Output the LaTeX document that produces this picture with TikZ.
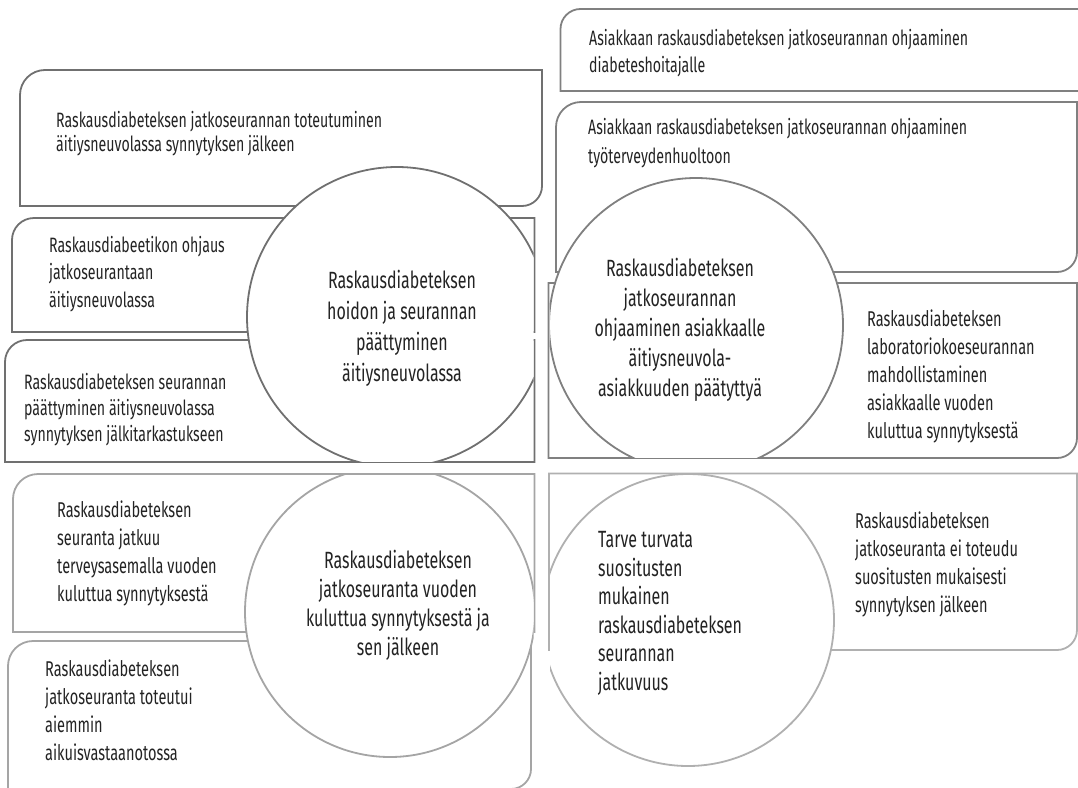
\documentclass[tikz,border=0pt]{standalone}
\usepackage{fontspec}
\setmainfont{Fira Sans}[FakeStretch=0.68]

\definecolor{edgeTL}{RGB}{112,112,112}
\definecolor{edgeTR}{RGB}{128,128,128}
\definecolor{edgeBL}{RGB}{165,165,165}
\definecolor{edgeBR}{RGB}{176,176,176}
\definecolor{ink}{RGB}{35,35,35}

\begin{document}
\begin{tikzpicture}[
    x=1pt, y=-1pt,
    every node/.style={inner sep=0pt, text=ink},
    boxtxt/.style={align=left, anchor=north west, font=\fontsize{21.4}{28}\selectfont},
    ringtxt/.style={align=center, anchor=north, font=\fontsize{23.5}{30}\selectfont},
    tl/.style={draw=edgeTL, line width=1.8pt},
    tr/.style={draw=edgeTR, line width=1.8pt},
    bl/.style={draw=edgeBL, line width=1.8pt},
    br/.style={draw=edgeBR, line width=1.8pt}
]
    \useasboundingbox (0,0) rectangle (1078,787);
    \clip (0,0) rectangle (1078,787);

    % Top left: boxes
    \draw[tl] (20,206) -- (20,95) arc[start angle=180, end angle=270, radius=25]
        -- (542,70) -- (542,186) arc[start angle=0, end angle=90, radius=20] -- cycle;
    \draw[tl] (12,332) -- (12,240) arc[start angle=180, end angle=270, radius=22]
        -- (534.5,218) -- (534.5,332) -- cycle;
    \draw[tl] (5,462) -- (5,362) arc[start angle=180, end angle=270, radius=22]
        -- (534.5,340) -- (534.5,462) -- cycle;
    % Top left: circle
    \begin{scope}
        \clip (0,0) rectangle (533.5,461);
        \draw[tl, fill=white] (397,317) circle[radius=150];
    \end{scope}

    % Top right: boxes
    \draw[tr] (560.5,91) -- (560.5,29) arc[start angle=180, end angle=270, radius=20]
        -- (1100,9) -- (1100,91) -- cycle;
    \draw[tr] (556,272) -- (556,127) arc[start angle=180, end angle=270, radius=25]
        -- (1077,102) -- (1077,252) arc[start angle=0, end angle=90, radius=20] -- cycle;
    \draw[tr] (548.5,458) -- (548.5,283) -- (1077,283)
        -- (1077,438) arc[start angle=0, end angle=90, radius=20] -- cycle;
    % Top right: circle
    \begin{scope}
        \clip (549.5,0) rectangle (1078,457);
        \draw[tr, fill=white] (696,325) circle[radius=147];
    \end{scope}

    % Bottom left: boxes
    \draw[bl] (13,632) -- (13,499) arc[start angle=180, end angle=270, radius=25]
        -- (534.5,474) -- (534.5,632) -- cycle;
    \draw[bl] (8,789) -- (8,666) arc[start angle=180, end angle=270, radius=25]
        -- (531,641) -- (531,769) arc[start angle=0, end angle=90, radius=20] -- cycle;
    % Bottom left: circle
    \begin{scope}
        \clip (0,475) rectangle (533.5,787);
        \draw[bl, fill=white] (390,612) circle[radius=145];
    \end{scope}

    % Bottom right: box
    \draw[br] (549,650) -- (549,473.5) -- (1077,473.5)
        -- (1077,630) arc[start angle=0, end angle=90, radius=20] -- cycle;
    % Bottom right: circle
    \begin{scope}
        \clip (550,474.5) rectangle (1078,787);
        \draw[br, fill=white] (688,620) circle[radius=146];
    \end{scope}

    % Texts in the boxes
    \node[boxtxt, font=\fontsize{20.8}{24}\selectfont] (t1) at (56,111)
        {Raskausdiabeteksen jatkoseurannan toteutuminen\\äitiysneuvolassa synnytyksen jälkeen};
    \node[boxtxt, font=\fontsize{20.8}{27.5}\selectfont] (t2) at (49,236)
        {Raskausdiabeetikon ohjaus\\jatkoseurantaan\\äitiysneuvolassa};
    \node[boxtxt, font=\fontsize{20.8}{26}\selectfont] (t3) at (24,373)
        {Raskausdiabeteksen seurannan\\päättyminen äitiysneuvolassa\\synnytyksen jälkitarkastukseen};
    \node[boxtxt, font=\fontsize{20.8}{27}\selectfont] (t4) at (589,29)
        {Asiakkaan raskausdiabeteksen jatkoseurannan ohjaaminen\\diabeteshoitajalle};
    \node[boxtxt, font=\fontsize{20.8}{29}\selectfont] (t5) at (588,118)
        {Asiakkaan raskausdiabeteksen jatkoseurannan ohjaaminen\\työterveydenhuoltoon};
    \node[boxtxt] (t6) at (867,310)
        {Raskausdiabeteksen\\laboratoriokoeseurannan\\mahdollistaminen\\asiakkaalle vuoden\\kuluttua synnytyksestä};
    \node[boxtxt] (t7) at (57,501)
        {Raskausdiabeteksen\\seuranta jatkuu\\terveysasemalla vuoden\\kuluttua synnytyksestä};
    \node[boxtxt] (t8) at (45,660)
        {Raskausdiabeteksen\\jatkoseuranta toteutui\\aiemmin\\aikuisvastaanotossa};
    \node[boxtxt] (t9) at (855,512)
        {Raskausdiabeteksen\\jatkoseuranta ei toteudu\\suositusten mukaisesti\\synnytyksen jälkeen};

    % Texts in the circles
    \node[ringtxt, font=\fontsize{23.5}{31}\selectfont] (c1) at (402,270)
        {Raskausdiabeteksen\\hoidon ja seurannan\\päättyminen\\äitiysneuvolassa};
    \node[ringtxt] (c2) at (680,258)
        {Raskausdiabeteksen\\jatkoseurannan\\ohjaaminen asiakkaalle\\äitiysneuvola-\\asiakkuuden päätyttyä};
    \node[ringtxt, font=\fontsize{23.5}{29}\selectfont] (c3) at (398,550)
        {Raskausdiabeteksen\\jatkoseuranta vuoden\\kuluttua synnytyksestä ja\\sen jälkeen};
    \node[boxtxt, font=\fontsize{23.5}{28.6}\selectfont] (c4) at (598,531)
        {Tarve turvata\\suositusten\\mukainen\\raskausdiabeteksen\\seurannan\\jatkuvuus};

\end{tikzpicture}
\end{document}
